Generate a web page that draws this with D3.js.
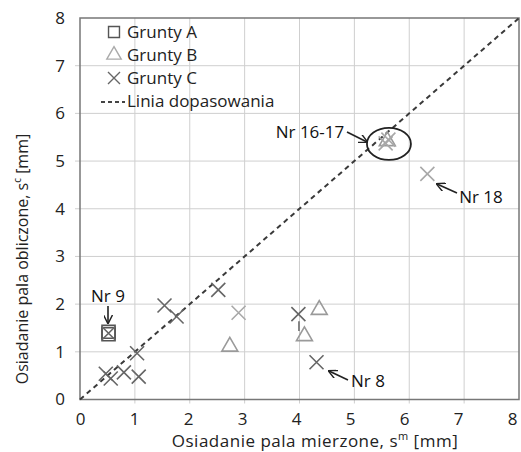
<!DOCTYPE html>
<html>
<head>
<meta charset="utf-8">
<script src="https://cdn.jsdelivr.net/npm/d3@7"></script>
<style>
  body { margin: 0; background: #fff; }
  svg { font-family: "Open Sans", "Noto Sans", sans-serif; }
</style>
</head>
<body>
<svg id="chart" width="521" height="452"></svg>
<script>
(function (d3) {
    'use strict';

    // dane [s_m, s_c]
    var gruntyA = [[0.52, 1.42], [0.52, 1.37]];
    var gruntyB = [[2.73, 1.09], [4.09, 1.31], [4.36, 1.86], [5.60, 5.40]];
    var gruntyC = [
        [0.52, 1.39], [0.47, 0.54], [0.56, 0.44], [0.80, 0.57], [1.07, 0.48],
        [1.04, 0.97], [1.54, 1.97], [1.76, 1.74], [2.52, 2.30], [3.98, 1.79],
        [4.31, 0.78]
    ];
    var gruntyCJasne = [[2.89, 1.82], [5.57, 5.37], [5.62, 5.45], [6.33, 4.73]];
    var linia = [[0, 0], [8, 8]];
    var ticks = [0, 1, 2, 3, 4, 5, 6, 7, 8];
    var legenda = ['Grunty A', 'Grunty B', 'Grunty C', 'Linia dopasowania'];
    var opisy = [
        { t: 'Nr 9', tx: 108, ty: 302, from: [108, 306], to: [108, 323] },
        { t: 'Nr 16-17', tx: 310, ty: 138, from: [347, 132], to: [367, 142] },
        { t: 'Nr 18', tx: 481, ty: 203, from: [457, 193], to: [437, 184] },
        { t: 'Nr 8', tx: 368, ty: 387, from: [348, 380], to: [329, 371] }
    ];

    var svg = d3.select('#chart');
    var left = 80, right = 519, top = 18, bottom = 399.5;

    var x = d3.scaleLinear().domain([0, 8]).range([left, right]);
    var y = d3.scaleLinear().domain([0, 8]).range([bottom, top]);

    // siatka
    var grid = svg.append('g').attr('stroke', '#cfcfcf').attr('stroke-width', 1);
    grid.selectAll('.vx').data(ticks.slice(1, -1)).enter().append('line')
        .attr('x1', function (d) { return x(d); }).attr('x2', function (d) { return x(d); })
        .attr('y1', top).attr('y2', bottom + 4);
    grid.selectAll('.hy').data(ticks.slice(1, -1)).enter().append('line')
        .attr('y1', function (d) { return y(d); }).attr('y2', function (d) { return y(d); })
        .attr('x1', left - 5).attr('x2', right);

    svg.append('rect')
        .attr('x', left).attr('y', top)
        .attr('width', right - left).attr('height', bottom - top)
        .attr('fill', 'none').attr('stroke', '#777').attr('stroke-width', 1.5);

    // osie
    var xAxis = svg.append('g').attr('transform', 'translate(0,' + bottom + ')')
        .call(d3.axisBottom(x).tickValues(ticks).tickSize(0).tickPadding(13));
    var yAxis = svg.append('g').attr('transform', 'translate(' + left + ',0)')
        .call(d3.axisLeft(y).tickValues(ticks).tickSize(0).tickPadding(15));
    [xAxis, yAxis].forEach(function (a) {
        a.select('.domain').remove();
        a.selectAll('text').attr('font-size', 17).attr('fill', '#222')
            .attr('font-family', '"Open Sans", sans-serif');
    });
    // etykiety osi x w skanie leżą nieco ciaśniej niż siatka
    xAxis.selectAll('.tick text').attr('dx', function (d) { return -d * 0.85; });

    var xl = svg.append('text').attr('x', 315).attr('y', 447)
        .attr('text-anchor', 'middle').attr('font-size', 17).attr('fill', '#222')
        .attr('letter-spacing', 0.5);
    xl.append('tspan').text('Osiadanie pala mierzone, s');
    xl.append('tspan').attr('font-size', 11).attr('dy', -7).text('m');
    xl.append('tspan').attr('dy', 7).text(' [mm]');

    var yl = svg.append('text').attr('transform', 'translate(28,259) rotate(-90)')
        .attr('text-anchor', 'middle').attr('font-size', 16).attr('fill', '#222');
    yl.append('tspan').text('Osiadanie pala obliczone, s');
    yl.append('tspan').attr('font-size', 10).attr('dy', -7).text('c');
    yl.append('tspan').attr('dy', 7).text(' [mm]');

    // linia dopasowania
    svg.append('path')
        .datum(linia)
        .attr('d', d3.line().x(function (d) { return x(d[0]); }).y(function (d) { return y(d[1]); }))
        .attr('stroke', '#3a3a3a').attr('stroke-width', 2).attr('stroke-dasharray', '5,4')
        .attr('fill', 'none');

    var sq = d3.symbol().type(d3.symbolSquare).size(170);
    var tri = d3.symbol().type(d3.symbolTriangle).size(110);
    function cross(g, data, color) {
        g.selectAll('path').data(data).enter().append('path')
            .attr('transform', function (d) { return 'translate(' + x(d[0]) + ',' + y(d[1]) + ')'; })
            .attr('d', 'M-7,-7L7,7M-7,7L7,-7')
            .attr('stroke', color).attr('stroke-width', 1.6).attr('fill', 'none');
    }

    svg.append('g').selectAll('path').data(gruntyA).enter().append('path')
        .attr('transform', function (d) { return 'translate(' + x(d[0]) + ',' + y(d[1]) + ')'; })
        .attr('d', sq).attr('fill', 'none').attr('stroke', '#555').attr('stroke-width', 1.6);
    svg.append('g').selectAll('path').data(gruntyB).enter().append('path')
        .attr('transform', function (d) { return 'translate(' + x(d[0]) + ',' + (y(d[1]) - 1) + ')'; })
        .attr('d', tri).attr('fill', 'none').attr('stroke', '#9a9a9a').attr('stroke-width', 1.6);
    cross(svg.append('g'), gruntyC, '#666');
    cross(svg.append('g'), gruntyCJasne, '#a8a8a8');

    // łącznik przy s_m = 4
    svg.append('line')
        .attr('x1', x(3.99)).attr('x2', x(3.99))
        .attr('y1', y(1.79) + 7).attr('y2', y(1.31) - 6)
        .attr('stroke', '#666').attr('stroke-width', 1.5);

    // elipsa Nr 16-17
    svg.append('ellipse')
        .attr('cx', x(5.63)).attr('cy', y(5.36)).attr('rx', 22).attr('ry', 16)
        .attr('fill', 'none').attr('stroke', '#222').attr('stroke-width', 1.8);

    // opisy ze strzałkami
    svg.append('defs').append('marker')
        .attr('id', 'grot').attr('viewBox', '0 0 10 10').attr('refX', 9).attr('refY', 5)
        .attr('markerWidth', 9).attr('markerHeight', 9).attr('orient', 'auto-start-reverse')
        .attr('markerUnits', 'userSpaceOnUse')
        .append('path').attr('d', 'M0,0L10,5L0,10').attr('fill', 'none')
        .attr('stroke', '#222').attr('stroke-width', 1.6);
    var op = svg.append('g');
    opisy.forEach(function (o) {
        op.append('text').attr('x', o.tx).attr('y', o.ty).attr('text-anchor', 'middle')
            .attr('font-size', 17).attr('fill', '#111').text(o.t);
        op.append('line')
            .attr('x1', o.from[0]).attr('y1', o.from[1]).attr('x2', o.to[0]).attr('y2', o.to[1])
            .attr('stroke', '#222').attr('stroke-width', 1.6).attr('marker-end', 'url(#grot)');
    });

    // legenda
    var lg = svg.append('g');
    legenda.forEach(function (t, i) {
        var cy = 32 + i * 23;
        lg.append('text').attr('x', 127).attr('y', cy + 6).attr('font-size', 17)
            .attr('fill', '#222').text(t);
    });
    lg.append('path').attr('transform', 'translate(114,32)').attr('d', d3.symbol().type(d3.symbolSquare).size(120))
        .attr('fill', 'none').attr('stroke', '#555').attr('stroke-width', 1.4);
    lg.append('path').attr('transform', 'translate(114,55)').attr('d', d3.symbol().type(d3.symbolTriangle).size(90))
        .attr('fill', 'none').attr('stroke', '#aaa').attr('stroke-width', 1.4);
    lg.append('path').attr('transform', 'translate(114,78)').attr('d', 'M-6,-6L6,6M-6,6L6,-6')
        .attr('stroke', '#666').attr('stroke-width', 1.4);
    lg.append('line').attr('x1', 101).attr('x2', 125).attr('y1', 102).attr('y2', 102)
        .attr('stroke', '#444').attr('stroke-width', 2).attr('stroke-dasharray', '4,3');
})(d3);
</script>
</body>
</html>
